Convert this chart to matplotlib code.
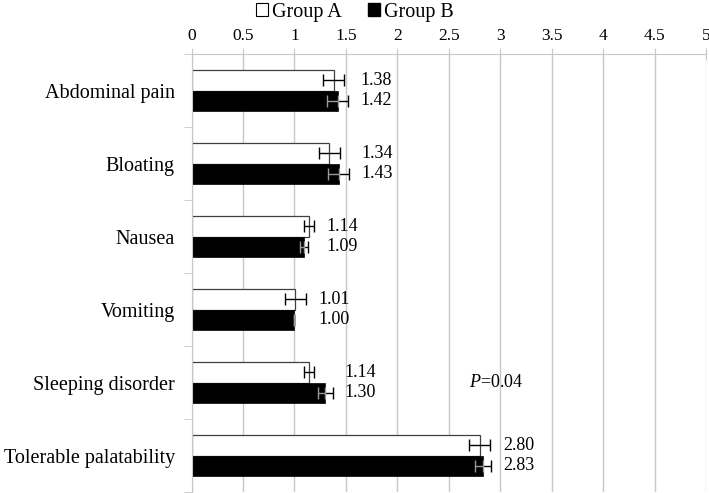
import matplotlib
matplotlib.use("Agg")
import matplotlib.pyplot as plt
from matplotlib.patches import Patch
import numpy as np

plt.rcParams['font.family'] = ['Liberation Serif', 'DejaVu Serif']
plt.rcParams['mathtext.fontset'] = 'custom'
plt.rcParams['mathtext.it'] = 'Liberation Serif:italic'
plt.rcParams['mathtext.rm'] = 'Liberation Serif'

categories = ["Abdominal pain", "Bloating", "Nausea", "Vomiting",
              "Sleeping disorder", "Tolerable palatability"]
group_a = [1.38, 1.34, 1.14, 1.01, 1.14, 2.80]
group_b = [1.42, 1.43, 1.09, 1.00, 1.30, 2.83]
err_a = [0.10, 0.10, 0.05, 0.10, 0.05, 0.10]
err_b = [0.10, 0.10, 0.04, 0.00, 0.07, 0.08]
xticks = [0, 0.5, 1, 1.5, 2, 2.5, 3, 3.5, 4, 4.5, 5]
xticklabels = ["0", "0.5", "1", "1.5", "2", "2.5", "3", "3.5", "4", "4.5", "5"]

fig = plt.figure(figsize=(7.09, 4.93), dpi=100)
ax = fig.add_axes([0.2702, 0.002, 0.7256, 0.8883])

y = np.arange(len(categories))
h = 0.285
grid_c = "#c8c8c8"

ax.set_axisbelow(True)
ax.xaxis.grid(True, color=grid_c, lw=1)

ax.barh(y - h / 2, group_a, height=h, color="white", edgecolor="#404040", lw=0.9, zorder=2)
ax.barh(y + h / 2, group_b, height=h, color="black", edgecolor="black", lw=0.5, zorder=2)
ax.errorbar(group_a, y - h / 2, xerr=err_a, fmt="none", ecolor="black", elinewidth=1,
            capsize=4, capthick=1, zorder=3)
ax.errorbar(group_b, y + h / 2, xerr=err_b, fmt="none",
            ecolor="black", elinewidth=1, capsize=4, capthick=1, zorder=3)
# lower half of Group B error bars lies on the black bar: show it light
ax.errorbar(group_b, y + h / 2, xerr=[err_b, [0] * len(err_b)], fmt="none",
            ecolor="#9a9a9a", elinewidth=1, capsize=4, capthick=1, zorder=4)

for i in range(len(categories)):
    lx = max(group_a[i] + err_a[i], group_b[i] + err_b[i]) + 0.12
    ax.text(lx, y[i] - h / 2, f"{group_a[i]:.2f}", va="center", ha="left", fontsize=13)
    ax.text(lx, y[i] + h / 2, f"{group_b[i]:.2f}", va="center", ha="left", fontsize=13)

ax.text(2.70, 4, r"$P$=0.04", va="center", ha="left", fontsize=13)

ax.set_xlim(0, 5)
ax.set_ylim(len(categories) - 0.5, -0.5)
ax.xaxis.tick_top()
ax.set_xticks(xticks)
ax.set_xticklabels(xticklabels, fontsize=12.5)
ax.tick_params(axis="x", direction="inout", length=9, color=grid_c, pad=2.5)
ax.set_yticks(y)
ax.set_yticklabels(categories, fontsize=14.5)
ax.tick_params(axis="y", which="major", length=0, pad=12)
ax.set_yticks(np.arange(-0.5, len(categories), 1), minor=True)
ax.tick_params(axis="y", which="minor", direction="out", length=6, color=grid_c)

for s in ["right", "bottom"]:
    ax.spines[s].set_visible(False)
ax.spines["top"].set_color(grid_c)
ax.spines["left"].set_color(grid_c)

handles = [Patch(facecolor="white", edgecolor="black", lw=0.8, label="Group A"),
           Patch(facecolor="black", edgecolor="black", label="Group B")]
fig.legend(handles=handles, loc="center", bbox_to_anchor=(0.5, 1 - 12 / 493), ncol=2,
           frameon=False, fontsize=14.5, handlelength=0.6, handleheight=0.6,
           handletextpad=0.2, columnspacing=1.3, borderpad=0.1)

fig.savefig("out.png", dpi=100)
